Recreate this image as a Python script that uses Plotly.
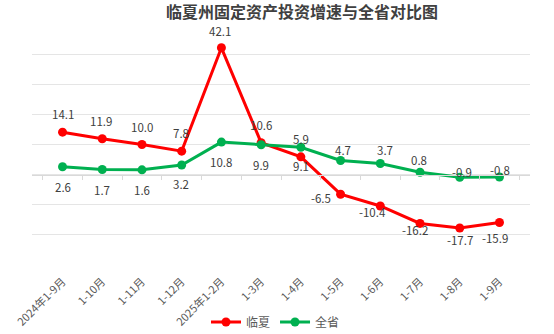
import plotly.graph_objects as go

categories = ["2024年1-9月", "1-10月", "1-11月", "1-12月", "2025年1-2月", "1-3月",
              "1-4月", "1-5月", "1-6月", "1-7月", "1-8月", "1-9月"]
linxia = [14.1, 11.9, 10.0, 7.8, 42.1, 10.6, 5.9, -6.5, -10.4, -16.2, -17.7, -15.9]
province = [2.6, 1.7, 1.6, 3.2, 10.8, 9.9, 9.1, 4.7, 3.7, 0.8, -0.9, -0.8]

# label offsets in pixels (x right, y up) relative to each marker
linxia_dx = [0, -1, 0, -1, -1, 0, 0, -20, -7.5, -5, 0, -4]
linxia_dy = [18, 18, 18, 18, 17, 17.5, 18, -4, -6.5, -7, -12, -15.5]
province_dx = [0, 0, 0, -0.5, 0, 0, 0, 2, 5, -1, 2, 0.5]
province_dy = [-20, -20, -20, -19, -19.5, -19.7, -18.3, 10.5, 13.3, 12.7, 5.5, 7.5]

FONT = "Noto Sans CJK SC, Open Sans, sans-serif"
RED = "#FF0000"
GREEN = "#00B050"
LABEL_COLOR = "#404040"

fig = go.Figure()
fig.add_trace(go.Scatter(
    x=categories, y=linxia, name="临夏", mode="lines+markers",
    line=dict(color=RED, width=3), marker=dict(color=RED, size=9),
))
fig.add_trace(go.Scatter(
    x=categories, y=province, name="全省", mode="lines+markers",
    line=dict(color=GREEN, width=3), marker=dict(color=GREEN, size=9),
))
# invisible trace to carry the zero-line axis with tick marks
fig.add_trace(go.Scatter(
    x=categories, y=[None] * len(categories), xaxis="x2", showlegend=False,
    hoverinfo="skip", mode="lines",
))

for vals, dxs, dys in ((linxia, linxia_dx, linxia_dy), (province, province_dx, province_dy)):
    for c, v, dx, dy in zip(categories, vals, dxs, dys):
        fig.add_annotation(x=c, y=v, text=f"{v:.1f}", showarrow=False,
                           xshift=dx, yshift=dy, xanchor="center", yanchor="middle",
                           font=dict(size=11.5, color=LABEL_COLOR, family=FONT))

fig.update_layout(
    width=554, height=334,
    margin=dict(l=32, r=24, t=24, b=69, autoexpand=False),
    paper_bgcolor="white", plot_bgcolor="white",
    font=dict(family=FONT, color="#595959", size=11),
    title=dict(text="<b>临夏州固定资产投资增速与全省对比图</b>",
               x=302 / 554, xanchor="center", y=1 - 12 / 334, yanchor="middle",
               font=dict(size=16, color="#404040", family=FONT)),
    xaxis=dict(showgrid=False, showline=False, ticks="", tickangle=-45,
               ticklabelstandoff=7,
               automargin=False, tickfont=dict(size=11, color="#595959")),
    xaxis2=dict(overlaying="x", matches="x", anchor="free", position=30 / 80,
                showline=True, linecolor="#D9D9D9", linewidth=1,
                ticks="outside", ticklen=4, tickcolor="#D9D9D9",
                tickson="boundaries", showticklabels=False, showgrid=False),
    yaxis=dict(range=[-30, 50], dtick=10, tick0=0, showticklabels=False,
               showgrid=True, gridcolor="#E5E5E5", gridwidth=1,
               zeroline=False, showline=False, ticks=""),
    legend=dict(orientation="h", xref="container", x=275.5 / 554, xanchor="center",
                yref="container", y=1 - 322 / 334, yanchor="middle",
                font=dict(size=12, color="#595959", family=FONT),
                bgcolor="rgba(0,0,0,0)"),
    showlegend=True,
)

fig.write_html("out.html")
